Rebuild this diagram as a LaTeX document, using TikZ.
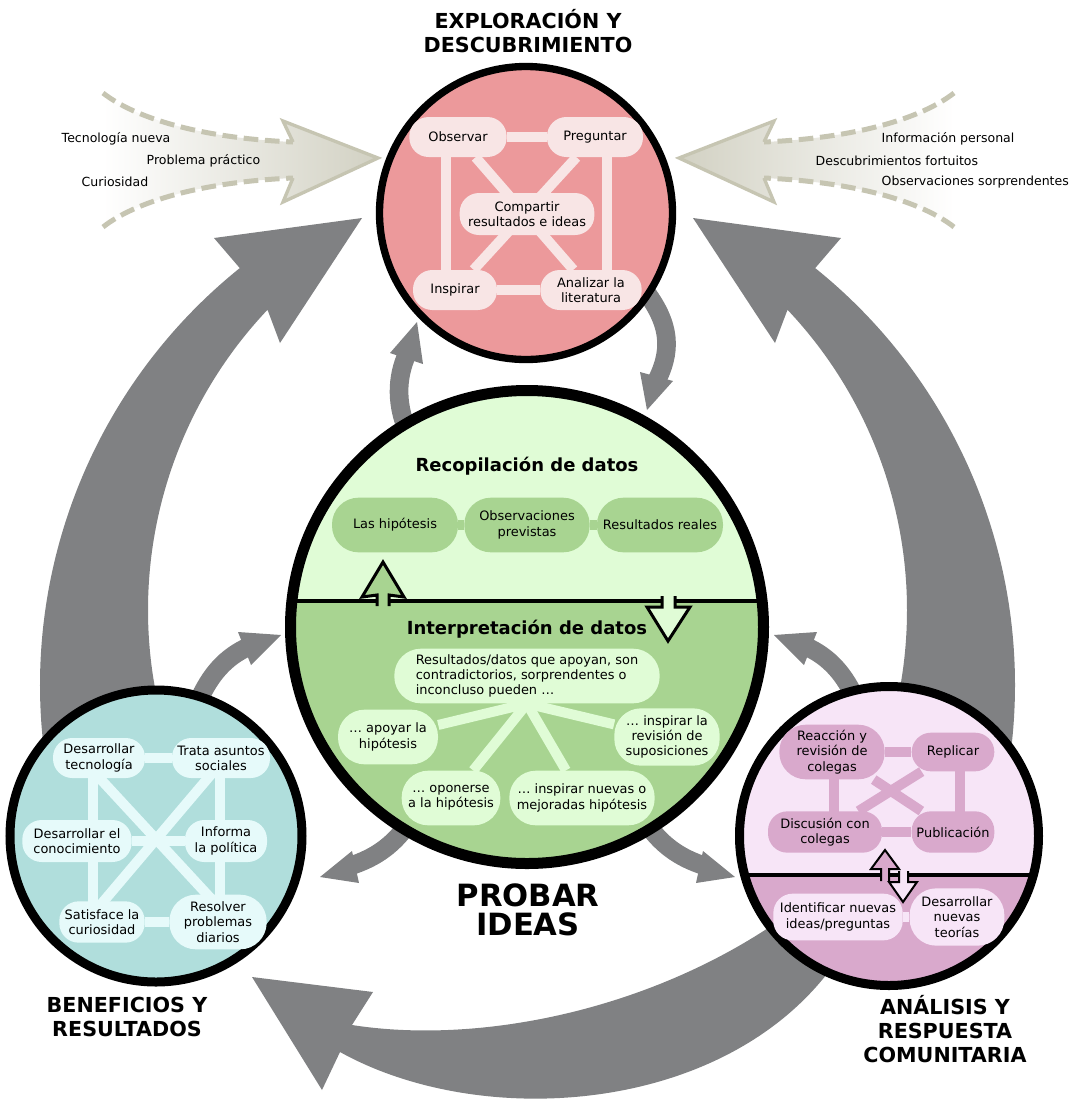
\documentclass[tikz,border=0pt]{standalone}
\usepackage{fontspec}
\setmainfont{DejaVu Sans}
\usetikzlibrary{shapes.misc}

\definecolor{arrowgrey}{RGB}{128,129,131}
\definecolor{beigefill}{RGB}{210,209,195}
\definecolor{beigeline}{RGB}{198,197,178}
\definecolor{explcol}{RGB}{236,153,155}
\definecolor{explight}{RGB}{248,229,229}
\definecolor{midlight}{RGB}{224,252,214}
\definecolor{middark}{RGB}{168,212,145}
\definecolor{benecol}{RGB}{176,222,220}
\definecolor{benelight}{RGB}{230,250,250}
\definecolor{commlight}{RGB}{247,229,247}
\definecolor{commdark}{RGB}{217,169,204}

\newcommand{\lblfont}{\fontsize{9.7}{11.4}\selectfont}
\newcommand{\sidefont}{\fontsize{9.4}{11.3}\selectfont}

\pgfdeclarelayer{front}
\pgfsetlayers{main,front}

\tikzset{
  pill/.style={rectangle, inner sep=1pt, align=center, font=\lblfont},
  lowpill/.style={minimum height=30pt, rounded corners=14.5pt},
  tallpill/.style={minimum height=41pt, rounded corners=20pt},
  explbox/.style={pill, fill=explight},
  datbox/.style={pill, fill=middark},
  intbox/.style={pill, fill=midlight},
  benebox/.style={pill, fill=benelight},
  commbox/.style={pill, fill=commdark},
  commlbox/.style={pill, fill=commlight},
  wire/.style={line width=7.5pt},
  shaft/.style={draw=arrowgrey, line width=14pt},
  hollow/.style={draw=black, line width=2.25pt, line join=miter},
  headline/.style={font=\fontsize{15.5}{18}\selectfont\bfseries, align=center},
  subhead/.style={font=\fontsize{13.5}{16}\selectfont\bfseries},
  dashedge/.style={draw=beigeline, line width=3.75pt, dash pattern=on 11pt off 5pt}
}

\begin{document}
\begin{tikzpicture}[x=0.75pt, y=-0.75pt]
\useasboundingbox (0,0) rectangle (1072,1101);

% incoming arrows
\shade[left color=white, right color=beigefill] (103,93) .. controls (135,118) and (200,138) .. (293,142) -- (283,121) -- (378,158) -- (283,202) -- (293,178) .. controls (200,182) and (135,202) .. (103,227) -- cycle;
\draw[beigeline, line width=2.5pt, line join=miter] (293,142) -- (283,121) -- (378,158) -- (283,202) -- (293,178);
\draw[dashedge] (103,93) .. controls (135,118) and (200,138) .. (293,142);
\draw[dashedge] (103,227) .. controls (135,202) and (200,182) .. (293,178);

\shade[left color=beigefill, right color=white] (954,93) .. controls (922,118) and (857,138) .. (764,142) -- (774,121) -- (679,158) -- (774,202) -- (764,178) .. controls (857,182) and (922,202) .. (954,227) -- cycle;
\draw[beigeline, line width=2.5pt, line join=miter] (764,142) -- (774,121) -- (679,158) -- (774,202) -- (764,178);
\draw[dashedge] (954,93) .. controls (922,118) and (857,138) .. (764,142);
\draw[dashedge] (954,227) .. controls (922,202) and (857,182) .. (764,178);

% big cycle arrows
\fill[arrowgrey] ([shift={(575,685)}]172:535) arc[start angle=172, end angle=231.2, radius=535] -- (214,238) -- (362,218) -- (280,343) -- ([shift={(585,610)}]223.4:437) arc[start angle=223.4, end angle=160, radius=437] -- cycle;
\fill[arrowgrey] ([shift={(480,685)}]8:535) arc[start angle=8, end angle=-51.2, radius=535] -- (841,238) -- (693,218) -- (775,343) -- ([shift={(470,610)}]-43.4:437) arc[start angle=-43.4, end angle=20, radius=437] -- cycle;
\fill[arrowgrey] (780,920) .. controls (650,1010) and (480,1045) .. (352,1025) -- (373,992) -- (252,977) -- (322,1090) -- (340,1052) .. controls (480,1130) and (720,1115) .. (830,970) -- cycle;

% small arrows
\draw[shaft] (408,432) .. controls (394,400) and (398,372) .. (409,350);
\fill[arrowgrey] (390,353) -- (417,322) -- (423,364) -- cycle;
\draw[shaft] (643,288) .. controls (672,325) and (672,352) .. (655,384);
\fill[arrowgrey] (640,372) -- (647,410) -- (673,381) -- cycle;
\draw[shaft] (198,702) .. controls (210,675) and (225,657) .. (250,646);
\fill[arrowgrey] (238,632) -- (281,635) -- (251,665) -- cycle;
\draw[shaft] (857,702) .. controls (845,675) and (830,657) .. (805,646);
\fill[arrowgrey] (817,632) -- (774,635) -- (804,665) -- cycle;
\draw[shaft] (412,818) .. controls (395,845) and (375,858) .. (350,866);
\fill[arrowgrey] (352,851) -- (320,877) -- (359,883) -- cycle;
\draw[shaft] (643,818) .. controls (660,845) and (680,858) .. (705,866);
\fill[arrowgrey] (703,851) -- (735,877) -- (696,883) -- cycle;

% circles
\coordinate (explo) at (526,213);
\coordinate (test) at (527,627);
\coordinate (bene) at (156,836);
\coordinate (comm) at (889,836);

\fill[explcol] (explo) circle (146.5);
\draw[line width=5.5pt] (explo) circle (146.5);

\begin{scope}
  \clip (test) circle (236.5);
  \fill[midlight] (280,380) rectangle (780,601);
  \fill[middark] (280,601) rectangle (780,880);
  \draw[line width=3.5pt] (280,601) -- (780,601);
\end{scope}
\draw[line width=8.25pt] (test) circle (236.5);

\fill[benecol] (bene) circle (146);
\draw[line width=6.75pt] (bene) circle (146);

\begin{scope}
  \clip (comm) circle (149.5);
  \fill[commlight] (730,680) rectangle (1050,875);
  \fill[commdark] (730,875) rectangle (1050,995);
  \draw[line width=2.5pt] (730,875) -- (1050,875);
\end{scope}
\draw[line width=6.75pt] (comm) circle (149.5);

\begin{pgfonlayer}{front}
  % exploration
  \node[explbox, lowpill, minimum width=73pt] (obs) at (458,137) {Observar};
  \node[explbox, lowpill, minimum width=72pt] (preg) at (595,137) {Preguntar};
  \node[explbox, lowpill, minimum width=101pt, minimum height=31.5pt] (comp) at (527,214) {Compartir\\resultados e ideas};
  \node[explbox, lowpill, minimum width=63pt] (insp) at (455,290) {Inspirar};
  \node[explbox, lowpill, minimum width=76pt] (anal) at (591,290) {Analizar la\\literatura};

  % testing
  \node[datbox, tallpill, minimum width=94.5pt] (hip) at (395,525) {Las hipótesis};
  \node[datbox, tallpill, minimum width=94pt] (obsprev) at (527,525) {Observaciones\\previstas};
  \node[datbox, tallpill, minimum width=94.5pt] (resreal) at (660,525) {Resultados reales};
  \node[intbox, tallpill, minimum width=199pt, align=left] (resdat) at (527,676) {Resultados/datos que apoyan, son\\contradictorios, sorprendentes o\\inconcluso pueden …};
  \node[intbox, tallpill, minimum width=75pt] (apoyar) at (388,737) {… apoyar la\\hipótesis};
  \node[intbox, tallpill, minimum width=79pt, minimum height=43pt] (revsup) at (667,737) {… inspirar la\\revisión de\\suposiciones};
  \node[intbox, tallpill, minimum width=74pt] (oponer) at (451,798) {… oponerse\\a la hipótesis};
  \node[intbox, tallpill, minimum width=109pt] (nuevas) at (582,798) {… inspirar nuevas o\\mejoradas hipótesis};

  % benefits
  \node[benebox, lowpill, minimum width=69pt] (dtec) at (99,758) {Desarrollar\\tecnología};
  \node[benebox, lowpill, minimum width=73.5pt] (trata) at (221,758) {Trata asuntos\\sociales};
  \node[benebox, lowpill, minimum width=82pt, minimum height=31.5pt] (dcon) at (77,841) {Desarrollar el\\conocimiento};
  \node[benebox, lowpill, minimum width=61.5pt, minimum height=31.5pt] (inform) at (226,841) {Informa\\la política};
  \node[benebox, lowpill, minimum width=64pt, minimum height=31pt] (satis) at (102,922) {Satisface la\\curiosidad};
  \node[benebox, tallpill, minimum width=73pt] (resol) at (218,922) {Resolver\\problemas\\diarios};

  % community
  \node[commbox, tallpill, minimum width=79pt] (reac) at (832,752) {Reacción y\\revisión de\\colegas};
  \node[commbox, lowpill, minimum width=62pt, minimum height=29pt] (repl) at (953,752) {Replicar};
  \node[commbox, lowpill, minimum width=85.5pt, minimum height=31pt] (disc) at (825,832) {Discusión con\\colegas};
  \node[commbox, lowpill, minimum width=62pt, minimum height=31pt] (publ) at (953,832) {Publicación};
  \node[commlbox, lowpill, minimum width=97pt, minimum height=35pt] (ident) at (838,917) {Identificar nuevas\\ideas/preguntas};
  \node[commlbox, tallpill, minimum width=71pt, minimum height=43pt] (teor) at (957,917) {Desarrollar\\nuevas\\teorías};
\end{pgfonlayer}

% links
\draw[wire, explight] (obs) -- (preg);
\draw[wire, explight] (insp) -- (anal);
\draw[wire, explight] ([xshift=-9pt]obs.center) -- ([xshift=-6.75pt]insp.center);
\draw[wire, explight] ([xshift=9pt]preg.center) -- ([xshift=12pt]anal.center);
\draw[wire, explight] (obs) -- (anal);
\draw[wire, explight] (preg) -- (insp);

\draw[wire, middark] (hip) -- (obsprev) -- (resreal);
\draw[wire, midlight] (resdat.south) -- (apoyar);
\draw[wire, midlight] (resdat.south) -- (revsup);
\draw[wire, midlight] (resdat.south) -- (oponer);
\draw[wire, midlight] (resdat.south) -- (nuevas);

\draw[wire, benelight] (dtec) -- (trata);
\draw[wire, benelight] (satis) -- (resol);
\draw[wire, benelight] (dcon) -- (inform);
\draw[wire, benelight] ([xshift=-4.5pt]dtec.center) -- ([xshift=-6.75pt]satis.center);
\draw[wire, benelight] ([xshift=-0.75pt]trata.center) -- ([xshift=1.5pt]resol.center);
\draw[wire, benelight] ([xshift=-13.5pt]dtec.center) -- ([xshift=11pt]resol.center);
\draw[wire, benelight] ([xshift=3pt]trata.center) -- ([xshift=-12pt]satis.center);

\draw[wire, commdark] (reac) -- (repl);
\draw[wire, commdark] (disc) -- (publ);
\draw[wire, commdark] ([xshift=1.5pt]reac.center) -- ([xshift=6.75pt]disc.center);
\draw[wire, commdark] ([xshift=5.25pt]repl.center) -- ([xshift=5.25pt]publ.center);
\draw[wire, commdark] (reac) -- (publ);
\draw[wire, commdark] (disc) -- (repl);
\draw[wire, commlight] (ident) -- (teor);

% hollow arrows across the dividers
\filldraw[hollow, fill=middark] (377,606) -- (377,595) -- (362,597) -- (383,562) -- (404,597) -- (389,595) -- (389,606);
\filldraw[hollow, fill=midlight] (662,596) -- (662,607) -- (647,607) -- (668,641) -- (690,607) -- (675,607) -- (675,596);
\filldraw[hollow, line width=1.5pt, fill=commdark] (881,881) -- (881,869) -- (871,869) -- (885,850) -- (899,869) -- (889,869) -- (889,881);
\filldraw[hollow, line width=1.5pt, fill=commlight] (899,871) -- (899,882) -- (889,882) -- (903,902) -- (917,882) -- (908,882) -- (908,871);

% texts
\node[anchor=west, font=\sidefont] (tecn) at (57,139) {Tecnología nueva};
\node[anchor=west, font=\sidefont] (probl) at (142,161) {Problema práctico};
\node[anchor=west, font=\sidefont] (curio) at (77,182) {Curiosidad};
\node[anchor=west, font=\sidefont] (infop) at (877,139) {Información personal};
\node[anchor=west, font=\sidefont] (descf) at (811,161) {Descubrimientos fortuitos};
\node[anchor=west, font=\sidefont] (obssor) at (877,182) {Observaciones sorprendentes};

\node[headline] (texplo) at (528,31) {EXPLORACIÓN Y\\DESCUBRIMIENTO};
\node[headline] (tbene) at (127,1017) {BENEFICIOS Y\\RESULTADOS};
\node[headline] (tcomm) at (945,1029) {ANÁLISIS Y\\RESPUESTA\\COMUNITARIA};
\node[font=\fontsize{23}{22}\selectfont\bfseries, align=center] (ttest) at (528,910) {PROBAR\\IDEAS};
\node[subhead] (trecop) at (527,466) {Recopilación de datos};
\node[subhead] (tinter) at (527,629) {Interpretación de datos};
\end{tikzpicture}
\end{document}
